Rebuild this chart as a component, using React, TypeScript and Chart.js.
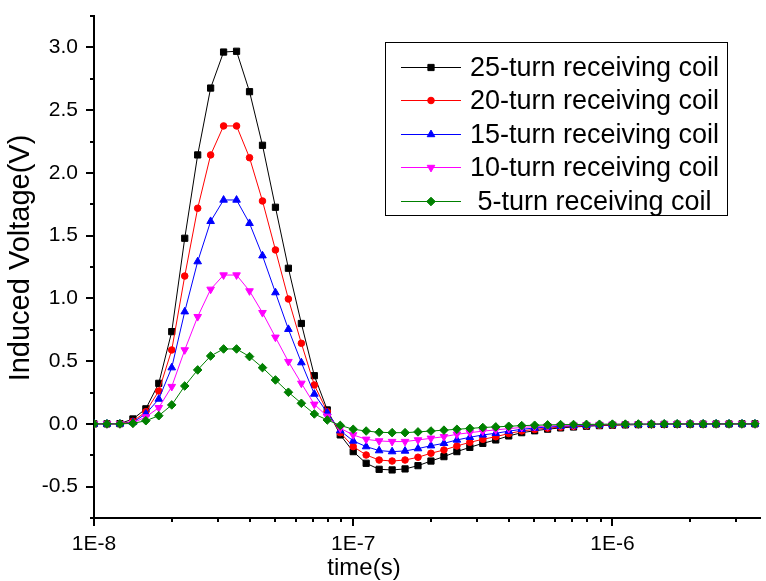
import React, { useEffect, useRef } from 'react';
import { Chart, registerables } from 'chart.js';
import { drawPoint } from 'chart.js/helpers';

Chart.register(...registerables);

// ---- data ----
const times = [
  1.000e-8, 1.122e-8, 1.259e-8, 1.413e-8, 1.585e-8, 1.778e-8, 1.995e-8, 2.239e-8, 2.512e-8, 2.818e-8,
  3.162e-8, 3.548e-8, 3.981e-8, 4.467e-8, 5.012e-8, 5.623e-8, 6.310e-8, 7.079e-8, 7.943e-8, 8.913e-8,
  1.000e-7, 1.122e-7, 1.259e-7, 1.413e-7, 1.585e-7, 1.778e-7, 1.995e-7, 2.239e-7, 2.512e-7, 2.818e-7,
  3.162e-7, 3.548e-7, 3.981e-7, 4.467e-7, 5.012e-7, 5.623e-7, 6.310e-7, 7.079e-7, 7.943e-7, 8.913e-7,
  1.000e-6, 1.122e-6, 1.259e-6, 1.413e-6, 1.585e-6, 1.778e-6, 1.995e-6, 2.239e-6, 2.512e-6, 2.818e-6,
  3.162e-6, 3.548e-6,
];

const coil25 = [
  0, 0, 0.002, 0.039, 0.12, 0.323, 0.735, 1.479, 2.143, 2.676,
  2.963, 2.969, 2.647, 2.22, 1.726, 1.24, 0.8, 0.384, 0.111, -0.088,
  -0.221, -0.314, -0.362, -0.367, -0.359, -0.333, -0.296, -0.261, -0.221, -0.187,
  -0.155, -0.128, -0.096, -0.07, -0.055, -0.042, -0.032, -0.025, -0.019, -0.014,
  -0.011, -0.008, -0.006, -0.005, -0.004, -0.003, -0.002, -0.002, -0.001, -0.001,
  0, 0,
];

const coil20 = [
  0, 0, 0, 0.02, 0.097, 0.262, 0.589, 1.178, 1.718, 2.143,
  2.374, 2.374, 2.121, 1.776, 1.386, 0.995, 0.642, 0.31, 0.097, -0.07,
  -0.181, -0.248, -0.288, -0.296, -0.288, -0.266, -0.234, -0.208, -0.176, -0.147,
  -0.123, -0.102, -0.077, -0.056, -0.044, -0.034, -0.026, -0.02, -0.015, -0.011,
  -0.009, -0.006, -0.005, -0.004, -0.003, -0.002, -0.002, -0.001, -0.001, 0,
  0, 0,
];

const coil15 = [
  0, 0, 0, 0.012, 0.08, 0.198, 0.448, 0.894, 1.293, 1.614,
  1.784, 1.784, 1.598, 1.34, 1.046, 0.754, 0.488, 0.238, 0.089, -0.054,
  -0.136, -0.181, -0.213, -0.221, -0.216, -0.197, -0.174, -0.155, -0.128, -0.107,
  -0.088, -0.075, -0.058, -0.043, -0.033, -0.025, -0.019, -0.015, -0.011, -0.008,
  -0.006, -0.005, -0.004, -0.003, -0.002, -0.002, -0.001, -0.001, 0, 0,
  0, 0,
];

const coil10 = [
  0, 0, 0, 0.008, 0.055, 0.129, 0.297, 0.589, 0.854, 1.072,
  1.186, 1.186, 1.059, 0.886, 0.69, 0.496, 0.323, 0.156, 0.06, -0.035,
  -0.088, -0.123, -0.136, -0.141, -0.141, -0.128, -0.115, -0.102, -0.083, -0.07,
  -0.058, -0.048, -0.038, -0.028, -0.022, -0.017, -0.013, -0.01, -0.007, -0.005,
  -0.004, -0.003, -0.002, -0.002, -0.001, -0.001, 0, 0, 0, 0,
  0, 0,
];

const coil5 = [
  0, 0, 0, 0.004, 0.025, 0.065, 0.151, 0.302, 0.43, 0.541,
  0.597, 0.597, 0.536, 0.448, 0.35, 0.252, 0.164, 0.079, 0.031, -0.012,
  -0.043, -0.057, -0.067, -0.07, -0.07, -0.064, -0.057, -0.05, -0.043, -0.036,
  -0.029, -0.024, -0.019, -0.014, -0.011, -0.008, -0.006, -0.005, -0.004, -0.003,
  -0.002, -0.002, -0.001, -0.001, 0, 0, 0, 0, 0, 0,
  0, 0,
];

const seriesLabels = [
  '25-turn receiving coil',
  '20-turn receiving coil',
  '15-turn receiving coil',
  '10-turn receiving coil',
  ' 5-turn receiving coil',
];
const seriesValues = [coil25, coil20, coil15, coil10, coil5];

const xTickLabels = ['1E-8', '1E-7', '1E-6'];
const xRange = [1e-8, 3.73e-6];
const yRange = [-0.75, 3.25];
const yStep = 0.25;
const xTitle = 'time(s)';
const yTitle = 'Induced Voltage(V)';

// ---- styles ----
const FONT = "'Liberation Sans', Arial, Helvetica, sans-serif";
const seriesStyles = [
  { color: '#000000', pointStyle: 'rect', radius: 4.4, rotation: 0 },
  { color: '#ff0000', pointStyle: 'circle', radius: 3.3, rotation: 0 },
  { color: '#0000ff', pointStyle: 'triangle', radius: 4.4, rotation: 0 },
  { color: '#ff00ff', pointStyle: 'triangle', radius: 4.4, rotation: 180 },
  { color: '#008000', pointStyle: 'rectRot', radius: 4.3, rotation: 0 },
];

const axisDecorPlugin = {
  id: 'axisDecor',
  afterDraw(chart: any) {
    const { ctx, chartArea, scales } = chart;
    const xs = scales.x;
    const ys = scales.y;
    ctx.save();
    ctx.strokeStyle = '#000';
    ctx.lineWidth = 2;
    ctx.beginPath();
    ys.ticks.forEach((t: any) => {
      const py = Math.round(ys.getPixelForValue(t.value));
      const major = Math.abs(t.value * 2 - Math.round(t.value * 2)) < 1e-9;
      const len = major ? 8 : 4;
      ctx.moveTo(chartArea.left, py);
      ctx.lineTo(chartArea.left - len, py);
    });
    for (let e = -8; e <= -6; e++) {
      for (let m = 1; m <= 9; m++) {
        const v = m * Math.pow(10, e);
        if (v < xRange[0] * 0.999 || v > xRange[1]) continue;
        const px = Math.round(xs.getPixelForValue(v));
        const len = m === 1 ? 8 : 4;
        ctx.moveTo(px, chartArea.bottom);
        ctx.lineTo(px, chartArea.bottom + len);
      }
    }
    ctx.stroke();

    // axis titles
    ctx.fillStyle = '#000000';
    ctx.textAlign = 'center';
    ctx.textBaseline = 'middle';
    ctx.font = `24px ${FONT}`;
    ctx.fillText(xTitle, 364, 568);
    ctx.save();
    ctx.translate(21, 258);
    ctx.rotate(-Math.PI / 2);
    ctx.font = `29px ${FONT}`;
    ctx.fillText(yTitle, 0, 0);
    ctx.restore();
    ctx.restore();
  },
};

const boxLegendPlugin = {
  id: 'boxLegend',
  afterDraw(chart: any) {
    const { ctx } = chart;
    const bx = 385, by = 42, bw = 342, bh = 173;
    ctx.save();
    ctx.fillStyle = '#ffffff';
    ctx.fillRect(bx, by, bw, bh);
    ctx.strokeStyle = '#000000';
    ctx.lineWidth = 1;
    ctx.strokeRect(bx + 0.5, by + 0.5, bw, bh);
    const rowY0 = 66.5;
    const rowStep = 33.6;
    seriesLabels.forEach((label, i) => {
      const st = seriesStyles[i];
      const y = Math.round(rowY0 + i * rowStep) + 0.5;
      ctx.strokeStyle = st.color;
      ctx.lineWidth = 1;
      ctx.beginPath();
      ctx.moveTo(401, y);
      ctx.lineTo(461, y);
      ctx.stroke();
      ctx.fillStyle = st.color;
      ctx.strokeStyle = st.color;
      drawPoint(ctx, { pointStyle: st.pointStyle, rotation: st.rotation, radius: st.radius, borderWidth: 1 } as any, 431, y);
      ctx.fillStyle = '#000000';
      ctx.font = `27px ${FONT}`;
      ctx.textBaseline = 'middle';
      ctx.textAlign = 'left';
      ctx.fillText(label, 470, y + 1);
    });
    ctx.restore();
  },
};

export default function App() {
  const canvasRef = useRef<HTMLCanvasElement | null>(null);

  useEffect(() => {
    document.body.style.margin = '0';
    document.body.style.overflow = 'hidden';
    const canvas = canvasRef.current;
    if (!canvas) return;

    const datasets = seriesValues.map((vals, i) => ({
      label: seriesLabels[i],
      data: times.map((t, k) => ({ x: t, y: vals[k] })),
      borderColor: seriesStyles[i].color,
      backgroundColor: seriesStyles[i].color,
      borderWidth: 1,
      pointStyle: seriesStyles[i].pointStyle as any,
      pointRotation: seriesStyles[i].rotation,
      pointRadius: seriesStyles[i].radius,
      pointBorderWidth: 1,
      pointBackgroundColor: seriesStyles[i].color,
      pointBorderColor: seriesStyles[i].color,
      tension: 0,
      fill: false,
      order: 5 - i,
    }));

    const chart = new Chart(canvas, {
      type: 'line',
      data: { datasets },
      plugins: [axisDecorPlugin, boxLegendPlugin],
      options: {
        animation: false,
        responsive: false,
        devicePixelRatio: 1,
        layout: { padding: { top: 16, right: 0, left: 0, bottom: 0 } },
        plugins: {
          legend: { display: false },
          tooltip: { enabled: false },
          title: { display: false },
        },
        scales: {
          x: {
            type: 'logarithmic',
            min: xRange[0],
            max: xRange[1],
            grid: { display: false, drawTicks: false, drawOnChartArea: false },
            border: { display: true, color: '#000000', width: 2 },
            ticks: {
              autoSkip: false,
              maxRotation: 0,
              minRotation: 0,
              padding: 14,
              color: '#000000',
              font: { family: FONT, size: 21 },
              callback: (value: any) => {
                const v = Number(value);
                const lg = Math.log10(v);
                if (Math.abs(lg - Math.round(lg)) < 1e-6) {
                  const idx = Math.round(lg) + 8;
                  return xTickLabels[idx] ?? '';
                }
                return '';
              },
            },
            title: { display: false },
            afterFit: (scale: any) => {
              scale.height = 63;
              scale.paddingLeft = 0;
              scale.paddingRight = 0;
            },
          },
          y: {
            type: 'linear',
            min: yRange[0],
            max: yRange[1],
            grid: { display: false, drawTicks: false, drawOnChartArea: false },
            border: { display: true, color: '#000000', width: 2 },
            ticks: {
              stepSize: yStep,
              padding: 16,
              color: '#000000',
              font: { family: FONT, size: 21 },
              callback: (value: any) => {
                const v = Number(value);
                if (Math.abs(v * 2 - Math.round(v * 2)) < 1e-9) return v.toFixed(1);
                return '';
              },
            },
            title: { display: false },
            afterFit: (scale: any) => {
              scale.width = 94;
              scale.paddingTop = 0;
              scale.paddingBottom = 0;
            },
          },
        },
      },
    });

    return () => {
      chart.destroy();
    };
  }, []);

  return (
    <div style={{ width: 766, height: 581, position: 'relative', background: '#ffffff' }}>
      <canvas ref={canvasRef} width={766} height={581} style={{ display: 'block' }} />
    </div>
  );
}
